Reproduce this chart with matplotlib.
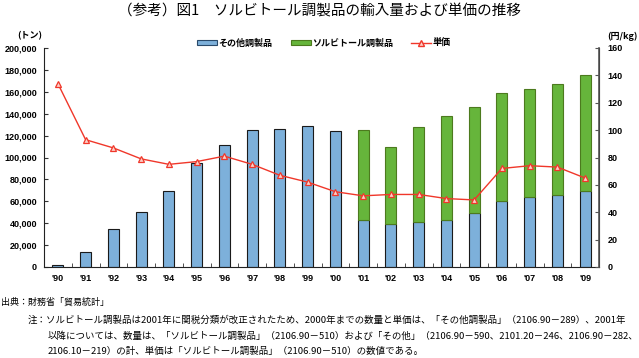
import matplotlib
matplotlib.use("Agg")
import matplotlib.pyplot as plt
import numpy as np
from matplotlib.patches import Patch
from matplotlib.lines import Line2D

plt.rcParams['font.family'] = ['Noto Sans CJK JP', 'DejaVu Sans']

years = ["'90", "'91", "'92", "'93", "'94", "'95", "'96", "'97", "'98", "'99",
         "'00", "'01", "'02", "'03", "'04", "'05", "'06", "'07", "'08", "'09"]
other = [2000, 14000, 35000, 50000, 69000, 95000, 111000, 125000, 126000, 129000,
         124000, 43000, 39000, 41000, 43000, 49000, 60000, 64000, 65500, 69000]
sorbitol = [0, 0, 0, 0, 0, 0, 0, 0, 0, 0,
            0, 82000, 71000, 86500, 95000, 97000, 99000, 99000, 102000, 106500]
price = [134, 93, 87, 79, 75, 77, 81, 75, 67, 62,
         55, 52, 53, 53, 50, 49, 72, 74, 73, 65]
left_ticks = [0, 20000, 40000, 60000, 80000, 100000, 120000, 140000, 160000, 180000, 200000]
right_ticks = [0, 20, 40, 60, 80, 100, 120, 140, 160]

title = "（参考）図1　ソルビトール調製品の輸入量および単価の推移"
source = "出典：財務省「貿易統計」"
note1 = "注：ソルビトール調製品は2001年に関税分類が改正されたため、2000年までの数量と単価は、「その他調製品」（2106.90－289）、2001年"
note2 = "以降については、数量は、「ソルビトール調製品」（2106.90－510）および「その他」（2106.90－590、2101.20－246、2106.90－282、"
note3 = "2106.10－219）の計、単価は「ソルビトール調製品」（2106.90－510）の数値である。"

blue = '#7DB0DA'
green = '#66B53B'
red = '#F0372A'

fig = plt.figure(figsize=(6.39, 3.58), dpi=100)
ax = fig.add_axes([44/639, 1-267/358, (599-44)/639, (267-48)/358])
ax2 = ax.twinx()

x = np.arange(len(years))
other_a = np.array(other)
sorb_a = np.array(sorbitol)
w = 0.4
ax.bar(x, other_a, w, color=blue, edgecolor='#1a1a1a', linewidth=0.8, zorder=2)
m = sorb_a > 0
ax.bar(x[m], sorb_a[m], w, bottom=other_a[m], color=green, edgecolor='#4C7A1E', linewidth=0.8, zorder=2)
ax2.plot(x, price, color=red, lw=1.0, marker='^', ms=4.5, mfc='#FBD0C8', mec=red, mew=0.9, zorder=3)

ax.set_xlim(-0.5, len(years) - 0.5)
ax.set_ylim(0, 200000)
ax2.set_ylim(0, 160)
ax.set_yticks(left_ticks)
ax.set_yticklabels([f"{v:,}" for v in left_ticks], fontsize=6.5, fontweight='bold', family=['Liberation Sans'])
ax2.set_yticks(right_ticks)
ax2.set_yticklabels([str(v) for v in right_ticks], fontsize=6.5, fontweight='bold', family=['Liberation Sans'])
ax.set_xticks(x)
ax.set_xticklabels(years, fontsize=6.5, fontweight='bold', family=['Liberation Sans'])
ax.tick_params(axis='x', which='major', length=0, pad=5)
ax.set_xticks(np.arange(-0.5, len(years), 1)[1:-1], minor=True)
ax.tick_params(axis='x', which='minor', direction='in', length=3, color='#333333')
ax.tick_params(axis='y', direction='in', length=3, pad=5, color='#333333')
ax2.tick_params(axis='y', direction='in', length=3, pad=6, color='#555555')

for a in (ax, ax2):
    a.spines['top'].set_visible(False)
ax.spines['left'].set_color('#222222')
ax.spines['bottom'].set_color('#222222')
ax2.spines['right'].set_color('#555555')
ax2.spines['right'].set_linewidth(1.2)
ax2.spines['left'].set_visible(False)
ax2.spines['bottom'].set_visible(False)

fig.text(30/639, 1-36/358, "(トン)", fontsize=6.5, fontweight='bold', ha='center', va='center')
fig.text(622/639, 1-36/358, "(円/kg)", fontsize=6.5, fontweight='bold', ha='center', va='center')

handles = [Patch(facecolor=blue, edgecolor='#2a4a6a', linewidth=0.8),
           Patch(facecolor=green, edgecolor='#4C7A1E', linewidth=0.8),
           Line2D([], [], color=red, lw=1.0, marker='^', ms=4, mfc='#FBD0C8', mec=red)]
labels = ["その他調製品", "ソルビトール調製品", "単価"]
fig.legend(handles, labels, loc='center', bbox_to_anchor=(324/639, 1-43/358), ncol=3,
           frameon=False, handlelength=2.2, handleheight=0.45,
           columnspacing=2.0, handletextpad=0.2, prop={'weight': 'bold', 'size': 6.5})

fig.text(0.5, 1-12/358, title, fontsize=10.5, ha='center', va='center')
fig.text(1/639, 1-302/358, source, fontsize=6.5, ha='left', va='center')
fig.text(28/639, 1-320/358, note1, fontsize=6.8, ha='left', va='center')
fig.text(48/639, 1-336/358, note2, fontsize=6.8, ha='left', va='center')
fig.text(48/639, 1-351/358, note3, fontsize=6.8, ha='left', va='center')

fig.savefig("out.png", dpi=100)
